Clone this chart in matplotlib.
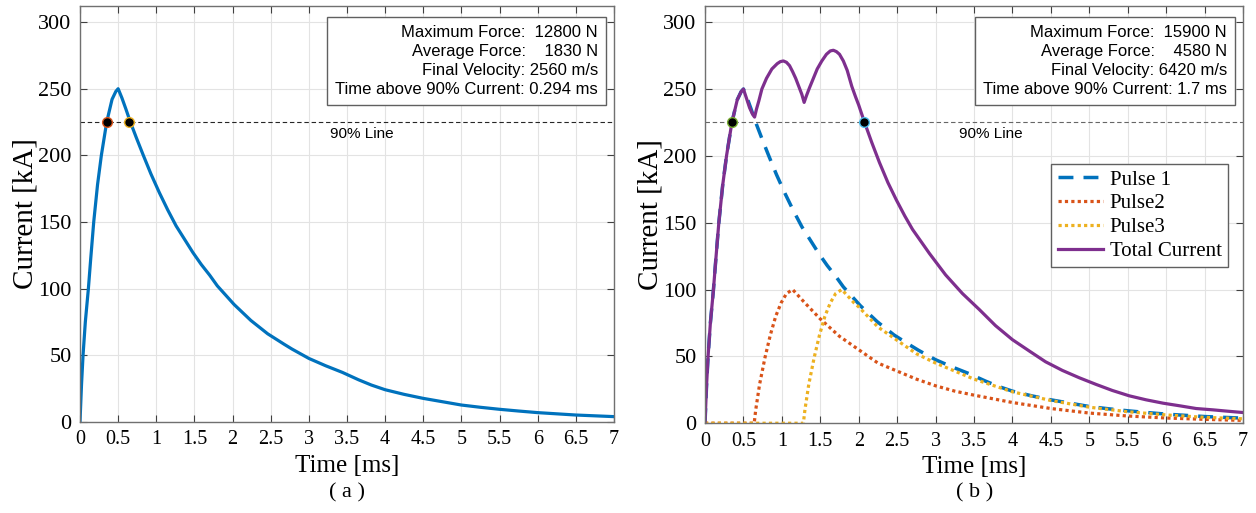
import matplotlib
matplotlib.use("Agg")
import matplotlib.pyplot as plt

# Pulse 1 (single pulse, panel a)
t_p1 = [0, 0.02, 0.04, 0.07, 0.11, 0.14, 0.18, 0.23, 0.28, 0.35, 0.42, 0.47, 0.5,
        0.55, 0.6, 0.66, 0.74, 0.83, 0.93, 1.04, 1.15, 1.26, 1.37, 1.48, 1.59,
        1.7, 1.8, 1.91, 2.02, 2.13, 2.24, 2.35, 2.46, 2.57, 2.68, 2.78, 2.89,
        3.0, 3.22, 3.44, 3.65, 3.82, 4.0, 4.25, 4.5, 4.75, 5.0, 5.25, 5.5, 5.75,
        6.0, 6.25, 6.5, 6.75, 7.0]
i_p1 = [0, 28, 50, 75, 100, 122, 150, 178, 200, 225, 242, 248, 250,
        243, 235, 225, 213, 200, 186, 172, 159, 147, 137, 127, 118,
        110, 102, 95, 88, 82, 76, 71, 66, 62, 58, 54.5, 51,
        47.5, 42, 37, 31.5, 27.5, 24, 20.5, 17.5, 15, 12.5, 10.8, 9.3, 8,
        6.8, 5.9, 5, 4.4, 3.8]

# Pulse 2
t_p2 = [0, 0.64, 0.66, 0.71, 0.78, 0.85, 0.92, 0.99, 1.06, 1.14, 1.3, 1.5, 1.75,
        2.0, 2.25, 2.5, 2.75, 3.0, 3.25, 3.5, 4.0, 4.5, 5.0, 5.5, 6.0, 6.5, 7.0]
i_p2 = [0, 0, 10, 29, 49, 66, 80, 90, 97, 100, 90, 78, 65,
        55, 45, 39, 33, 28, 24, 21, 15.5, 11, 7.6, 5.4, 3.9, 2.9, 2.1]

# Pulse 3
t_p3 = [0, 1.28, 1.30, 1.35, 1.42, 1.49, 1.56, 1.63, 1.70, 1.78, 1.94, 2.0, 2.25,
        2.5, 2.75, 3.0, 3.25, 3.5, 4.0, 4.5, 5.0, 5.5, 6.0, 6.5, 7.0]
i_p3 = [0, 0, 10, 29, 49, 66, 80, 90, 97, 100, 90, 87, 72,
        62, 52, 45, 39, 33, 23.5, 17, 12, 8.6, 6.2, 4.4, 3.3]

# Total current
t_tot = [0, 0.02, 0.04, 0.07, 0.11, 0.14, 0.18, 0.23, 0.28, 0.35, 0.42, 0.47, 0.5,
         0.54, 0.58, 0.62, 0.645, 0.67, 0.7, 0.74, 0.8, 0.87, 0.94, 0.98, 1.02,
         1.06, 1.1, 1.14, 1.18, 1.22, 1.26, 1.29, 1.32, 1.36, 1.41, 1.46, 1.52,
         1.58, 1.63, 1.67, 1.71, 1.75, 1.8, 1.85, 1.91, 1.96, 2.0, 2.07, 2.17,
         2.27, 2.38, 2.49, 2.6, 2.7, 2.81, 2.92, 3.13, 3.35, 3.57, 3.78, 4.0,
         4.22, 4.43, 4.65, 4.87, 5.09, 5.3, 5.52, 5.74, 5.96, 6.18, 6.39, 6.61,
         6.8, 7.0]
i_tot = [0, 28, 50, 75, 100, 122, 150, 178, 200, 225, 242, 248, 250,
         243, 236, 231, 229, 235, 241, 250, 258, 265, 269, 270.5, 271,
         270, 267.5, 263, 258, 252, 246, 240, 245, 251, 258, 265, 271,
         276, 278.5, 279, 278, 276, 271, 264, 252, 244, 238, 226, 210,
         195, 180, 167, 155, 145, 136, 127, 111, 97, 85, 73, 62.5,
         54, 46, 39.5, 34, 29, 24.5, 20.5, 17.5, 15, 13, 11, 10,
         9, 8]

# 90% crossing points
cross_a = [0.35, 0.644]
cross_b = [0.35, 2.07]
level90 = 225

info_a = "Maximum Force:  12800 N\nAverage Force:    1830 N\nFinal Velocity: 2560 m/s\nTime above 90% Current: 0.294 ms"
info_b = "Maximum Force:  15900 N\nAverage Force:    4580 N\nFinal Velocity: 6420 m/s\nTime above 90% Current: 1.7 ms"

xticks = [0, 0.5, 1, 1.5, 2, 2.5, 3, 3.5, 4, 4.5, 5, 5.5, 6, 6.5, 7]
xlabels = ["0", "0.5", "1", "1.5", "2", "2.5", "3", "3.5", "4", "4.5", "5", "5.5", "6", "6.5", "7"]
yticks = [0, 50, 100, 150, 200, 250, 300]

blue = "#0072BD"
orange = "#D95319"
yellow = "#EDB120"
purple = "#7E2F8E"

serif = "Liberation Serif"
sans = "Liberation Sans"

fig = plt.figure(figsize=(12.56, 5.13), dpi=100)
ax1 = fig.add_axes([80/1256, 0.178, 534/1256, 0.81])
ax2 = fig.add_axes([705/1256, 0.175, 538/1256, 0.813])


def style(ax):
    ax.set_xlim(0, 7)
    ax.set_ylim(0, 312)
    ax.set_xticks(xticks)
    ax.set_xticklabels(xlabels, family=serif, fontsize=14.5)
    ax.set_yticks(yticks)
    ax.set_yticklabels([str(v) for v in yticks], family=serif, fontsize=16)
    ax.grid(True, color="#e3e3e3", lw=0.8)
    ax.set_axisbelow(True)
    ax.tick_params(direction="in", top=True, right=True, length=5, width=0.8,
                   color="#404040", pad=6)
    for s in ax.spines.values():
        s.set_color("#707070")
        s.set_linewidth(1.0)
    ax.set_xlabel("Time [ms]", family=serif, fontsize=18, labelpad=4)
    ax.set_ylabel("Current [kA]", family=serif, fontsize=21, labelpad=0)


# panel (a)
ax1.plot(t_p1, i_p1, color=blue, lw=2.3)
ax1.axhline(level90, color="0.15", lw=0.8, ls=(0, (4, 2.5)))
ax1.text(3.28, 216, "90% Line", family=sans, fontsize=11, va="center")
ax1.plot(cross_a[0], level90, "o", ms=7, mfc="black", mec=orange, mew=1)
ax1.plot(cross_a[1], level90, "o", ms=7, mfc="black", mec=yellow, mew=1)
ax1.text(0.97, 0.955, info_a, transform=ax1.transAxes, ha="right", va="top",
         multialignment="right", family=sans, fontsize=12, linespacing=1.33,
         bbox=dict(boxstyle="square,pad=0.5", fc="white", ec="#606060", lw=1))
style(ax1)

# panel (b)
ax2.plot(t_p1, i_p1, color=blue, lw=2.5, ls=(0, (4.3, 2.9)), label="Pulse 1")
ax2.plot(t_p2, i_p2, color=orange, lw=2.3, ls=(0, (1, 1)), label="Pulse2")
ax2.plot(t_p3, i_p3, color=yellow, lw=2.3, ls=(0, (1, 1)), label="Pulse3")
ax2.plot(t_tot, i_tot, color=purple, lw=2.3, label="Total Current")
ax2.axhline(level90, color="0.4", lw=0.8, ls=(0, (4, 2.5)))
ax2.text(3.3, 216, "90% Line", family=sans, fontsize=11, va="center")
ax2.plot(cross_b[0], level90, "o", ms=7, mfc="black", mec="#77AC30", mew=1)
ax2.plot(cross_b[1], level90, "o", ms=7, mfc="black", mec="#4DBEEE", mew=1)
ax2.text(0.97, 0.955, info_b, transform=ax2.transAxes, ha="right", va="top",
         multialignment="right", family=sans, fontsize=12, linespacing=1.33,
         bbox=dict(boxstyle="square,pad=0.5", fc="white", ec="#606060", lw=1))
leg = ax2.legend(loc="upper right", bbox_to_anchor=(0.972, 0.622), prop={"family": serif, "size": 15},
                 frameon=True, fancybox=False, edgecolor="#606060", framealpha=1,
                 handlelength=2.2, borderpad=0.3, labelspacing=0.2, handletextpad=0.3,
                 borderaxespad=0)
leg.get_frame().set_linewidth(1)
style(ax2)

fig.text(347/1256, 1 - 493/513, "( a )", family=serif, fontsize=16, ha="center", va="center")
fig.text(975/1256, 1 - 493/513, "( b )", family=serif, fontsize=16, ha="center", va="center")

fig.savefig("out.png", dpi=100)
